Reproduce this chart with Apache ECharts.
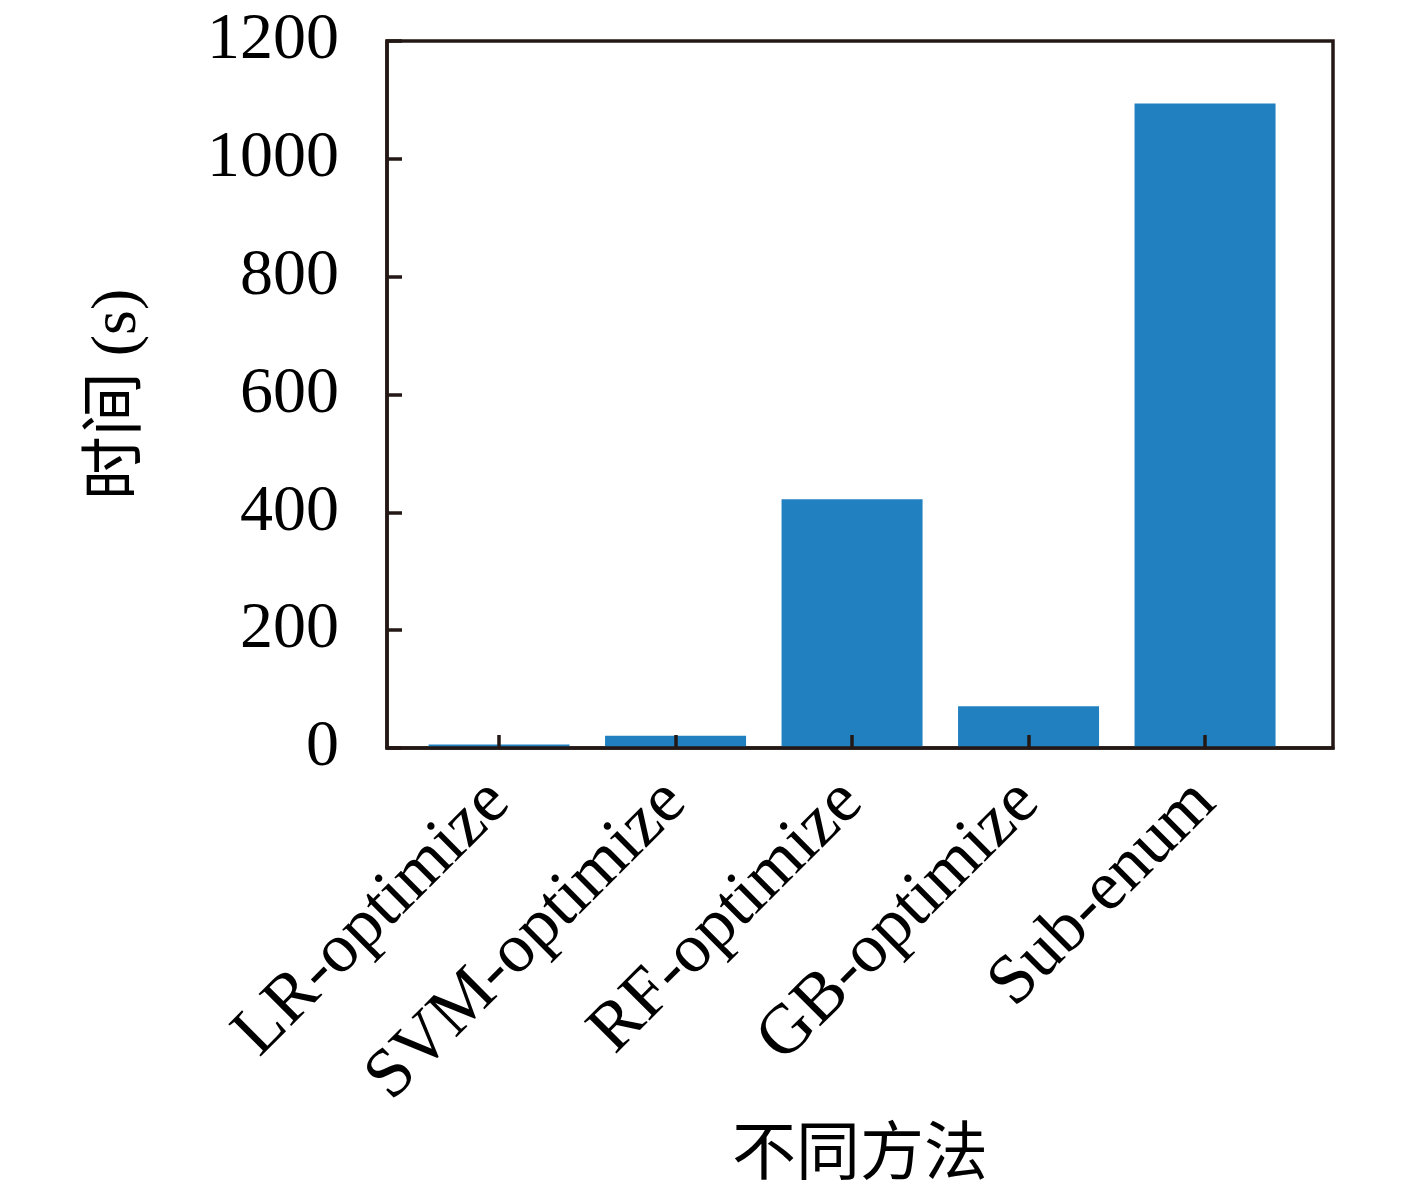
<!DOCTYPE html>
<html>
<head>
<meta charset="utf-8">
<script src="https://cdn.jsdelivr.net/npm/echarts@6/dist/echarts.min.js"></script>
<style>html,body{margin:0;padding:0;background:#fff;}#c{width:1417px;height:1193px;}</style>
</head>
<body>
<div id="c"></div>
<script>
const categories = ['LR-optimize', 'SVM-optimize', 'RF-optimize', 'GB-optimize', 'Sub-enum'];
const values = [6, 21, 422, 71, 1094];
const yTicks = [0, 200, 400, 600, 800, 1000, 1200];
const xTitle = '不同方法';
const yTitle = '时间 (s)';

const FONT = '"Liberation Serif", "DejaVu Serif", "Noto Sans CJK SC", serif';
const INK = '#231815';
const chart = echarts.init(document.getElementById('c'), null, {renderer: 'canvas'});
const positions = categories.map((_, i) => i);
chart.setOption({
  animation: false,
  backgroundColor: '#fff',
  grid: {left: 387, top: 41, right: 84, bottom: 445, outerBoundsMode: 'none', containLabel: false,
         show: true, borderColor: INK, borderWidth: 3.5, backgroundColor: 'transparent'},
  xAxis: {
    type: 'value', min: -0.635, max: 4.725, z: 10,
    splitLine: {show: false},
    axisLine: {show: true, onZero: false, lineStyle: {color: INK, width: 3.5}},
    axisTick: {show: true, inside: true, length: 13, customValues: positions, lineStyle: {color: INK, width: 3.5}},
    axisLabel: {customValues: positions, formatter: v => categories[Math.round(v)], rotate: 45, fontSize: 70, fontFamily: FONT, color: '#000', margin: 44},
    name: xTitle, nameLocation: 'middle', nameGap: 377,
    nameTextStyle: {fontSize: 64, fontFamily: FONT, color: '#000'}
  },
  yAxis: {
    type: 'value', min: yTicks[0], max: yTicks[yTicks.length - 1], interval: 200, z: 10,
    splitLine: {show: false},
    axisLine: {show: true, onZero: false, lineStyle: {color: INK, width: 3.5}},
    axisTick: {show: true, inside: true, length: 15, lineStyle: {color: INK, width: 3.5}},
    axisLabel: {fontSize: 66, fontFamily: FONT, color: '#000', margin: 48, formatter: v => String(v)},
    name: yTitle, nameLocation: 'middle', nameGap: 237, nameRotate: 90,
    nameTextStyle: {fontSize: 64, fontFamily: FONT, color: '#000'}
  },
  series: [{
    type: 'bar',
    data: values.map((v, i) => [positions[i], v]),
    barWidth: 141,
    itemStyle: {color: '#2180bf'},
    z: 1
  }]
});
</script>
</body>
</html>
